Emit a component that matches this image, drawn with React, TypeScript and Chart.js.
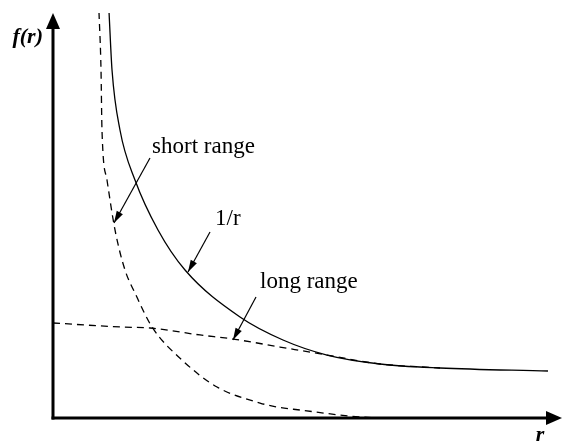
import React, { useEffect, useRef } from "react";
import { Chart, registerables } from "chart.js";

Chart.register(...registerables);

// r values and f(r) values
const coulombR = [1.105, 1.164, 1.321, 1.617, 2.071, 2.604, 3.688, 4.536, 5.404, 6.45, 7.633, 9.763];
const coulombF = [8.02, 6.874, 5.689, 4.701, 3.714, 2.923, 1.995, 1.541, 1.244, 1.067, 0.988, 0.928];

const shortR = [0.907, 0.947, 0.966, 1.065, 1.223, 1.42, 1.617, 1.953, 2.544, 3.235, 4.083, 4.418, 4.872, 6.055, 6.844];
const shortF = [8.02, 6.874, 5.689, 4.701, 3.714, 2.923, 2.469, 1.798, 1.146, 0.612, 0.296, 0.217, 0.158, 0.02, 0.0];

const longR = [0, 1.321, 1.913, 2.899, 3.55, 4.477, 5.404, 6.45, 7.633];
const longF = [1.877, 1.798, 1.778, 1.64, 1.56, 1.402, 1.244, 1.067, 0.988];

// annotation labels: text, label anchor (r, f), arrow start (r, f), arrow tip (r, f)
const labelTexts = ["short range", "1/r", "long range"];
const labelPos = [[1.953, 5.235], [3.195, 3.812], [4.083, 2.568]];
const arrowFrom = [[1.913, 5.136], [3.097, 3.674], [4.004, 2.39]];
const arrowTo = [[1.203, 3.852], [2.663, 2.884], [3.55, 1.541]];

const yAxisTitle = "f(r)";
const xAxisTitle = "r";

const toPts = (xs: number[], ys: number[]) => xs.map((x, i) => ({ x, y: ys[i] }));

function drawArrowHead(ctx: CanvasRenderingContext2D, x1: number, y1: number, x2: number, y2: number, len: number, half: number) {
  const a = Math.atan2(y2 - y1, x2 - x1);
  ctx.beginPath();
  ctx.moveTo(x2, y2);
  ctx.lineTo(x2 - len * Math.cos(a) + half * Math.sin(a), y2 - len * Math.sin(a) - half * Math.cos(a));
  ctx.lineTo(x2 - len * Math.cos(a) - half * Math.sin(a), y2 - len * Math.sin(a) + half * Math.cos(a));
  ctx.closePath();
  ctx.fill();
}

const decorPlugin = {
  id: "decor",
  afterDatasetsDraw(chart: any) {
    const { ctx, chartArea, scales } = chart;
    const xs = scales.x;
    const ys = scales.y;
    ctx.save();
    ctx.fillStyle = "#000";
    ctx.strokeStyle = "#000";
    // axes
    const ox = xs.getPixelForValue(0);
    const oy = ys.getPixelForValue(0);
    ctx.lineWidth = 3;
    ctx.beginPath();
    ctx.moveTo(ox, oy + 1.5);
    ctx.lineTo(ox, chartArea.top + 10);
    ctx.stroke();
    ctx.beginPath();
    ctx.moveTo(ox - 1.5, oy);
    ctx.lineTo(chartArea.right - 6, oy);
    ctx.stroke();
    drawArrowHead(ctx, ox, oy, ox, chartArea.top, 16, 7);
    drawArrowHead(ctx, ox, oy, chartArea.right + 2, oy, 16, 7);

    // axis titles
    ctx.font = "bold italic 22px 'Liberation Serif', 'Times New Roman', serif";
    ctx.textAlign = "right";
    ctx.textBaseline = "alphabetic";
    ctx.fillText(yAxisTitle, ox - 10, chartArea.top + 30);
    ctx.textAlign = "center";
    ctx.fillText(xAxisTitle, chartArea.right - 20, oy + 23);

    // annotations
    ctx.font = "23px 'Liberation Serif', 'Times New Roman', serif";
    ctx.textAlign = "left";
    ctx.lineWidth = 1.2;
    labelTexts.forEach((t, i) => {
      ctx.fillText(t, xs.getPixelForValue(labelPos[i][0]), ys.getPixelForValue(labelPos[i][1]));
      const x1 = xs.getPixelForValue(arrowFrom[i][0]);
      const y1 = ys.getPixelForValue(arrowFrom[i][1]);
      const x2 = xs.getPixelForValue(arrowTo[i][0]);
      const y2 = ys.getPixelForValue(arrowTo[i][1]);
      ctx.beginPath();
      ctx.moveTo(x1, y1);
      ctx.lineTo(x2, y2);
      ctx.stroke();
      drawArrowHead(ctx, x1, y1, x2, y2, 12, 3.5);
    });
    ctx.restore();
  },
};

export default function App() {
  const ref = useRef<HTMLCanvasElement>(null);
  useEffect(() => {
    if (!ref.current) return;
    const chart = new Chart(ref.current, {
      type: "line",
      data: {
        datasets: [
          {
            label: "1/r",
            data: toPts(coulombR, coulombF),
            borderColor: "#000",
            borderWidth: 1.3,
            pointRadius: 0,
            cubicInterpolationMode: "monotone",
            fill: false,
          },
          {
            label: "short range",
            data: toPts(shortR, shortF),
            borderColor: "#000",
            borderWidth: 1.3,
            borderDash: [7, 5],
            pointRadius: 0,
            cubicInterpolationMode: "monotone",
            fill: false,
          },
          {
            label: "long range",
            data: toPts(longR, longF),
            borderColor: "#000",
            borderWidth: 1.3,
            borderDash: [7, 5],
            pointRadius: 0,
            cubicInterpolationMode: "monotone",
            fill: false,
          },
        ],
      },
      options: {
        responsive: false,
        animation: false,
        layout: { padding: { left: 53, right: 3, top: 13, bottom: 23 } },
        plugins: { legend: { display: false }, tooltip: { enabled: false }, title: { display: false } },
        scales: {
          x: { type: "linear", min: 0, max: 10, display: false },
          y: { type: "linear", min: 0, max: 8, display: false },
        },
      },
      plugins: [decorPlugin],
    } as any);
    return () => chart.destroy();
  }, []);
  return (
    <div style={{ position: "fixed", left: 0, top: 0, width: 563, height: 441, background: "#fff" }}>
      <canvas ref={ref} width={563} height={441} style={{ display: "block" }} />
    </div>
  );
}
